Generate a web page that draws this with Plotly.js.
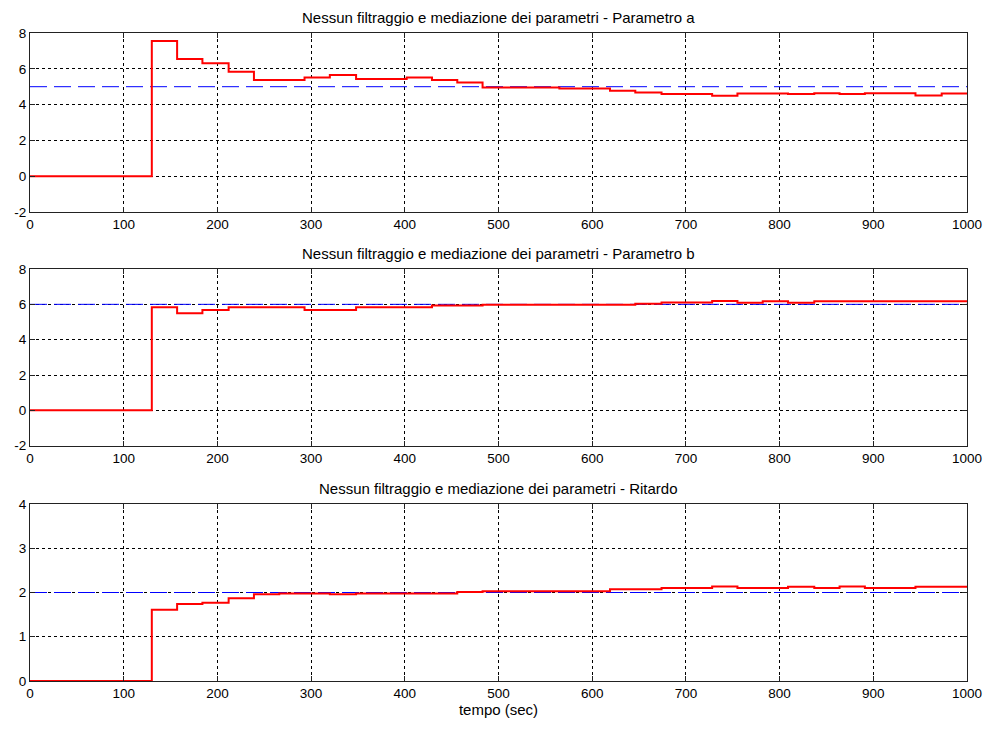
<!DOCTYPE html>
<html>
<head>
<meta charset="utf-8">
<script src="https://cdn.plot.ly/plotly-3.0.1.min.js"></script>
<style>html,body{margin:0;padding:0;background:#fff;}#chart{width:987px;height:730px;}</style>
</head>
<body>
<div id="chart"></div>
<script>
// step boundaries (sec)
const tempo = [0, 130, 157, 184, 212, 239, 266, 293, 320, 348, 375, 402, 429, 456, 483, 511, 538, 565, 592, 619, 646, 674, 701, 728, 755, 782, 809, 837, 864, 891, 918, 945, 973, 1000];
const parametroA = [0, 7.55, 6.55, 6.31, 5.84, 5.37, 5.37, 5.52, 5.65, 5.43, 5.43, 5.52, 5.37, 5.24, 4.96, 4.96, 4.96, 4.9, 4.9, 4.78, 4.68, 4.59, 4.59, 4.49, 4.62, 4.62, 4.59, 4.64, 4.59, 4.64, 4.64, 4.51, 4.62, 4.62];
const parametroB = [0, 5.83, 5.49, 5.68, 5.83, 5.83, 5.83, 5.68, 5.68, 5.83, 5.83, 5.83, 5.93, 5.93, 5.98, 5.98, 5.98, 5.98, 5.98, 5.98, 6.04, 6.11, 6.11, 6.19, 6.09, 6.17, 6.09, 6.17, 6.17, 6.17, 6.17, 6.17, 6.17, 6.17];
const ritardo = [0, 1.61, 1.74, 1.77, 1.87, 1.96, 1.98, 1.98, 1.96, 1.98, 1.98, 1.98, 1.98, 2.01, 2.03, 2.03, 2.03, 2.03, 2.03, 2.075, 2.075, 2.1, 2.1, 2.135, 2.1, 2.1, 2.13, 2.1, 2.135, 2.1, 2.1, 2.13, 2.13, 2.13];
const refX = [0, 1000];
const refA = [5, 5];
const refB = [6, 6];
const refR = [2, 2];
const titles = [
  "Nessun filtraggio e mediazione dei parametri - Parametro a",
  "Nessun filtraggio e mediazione dei parametri - Parametro b",
  "Nessun filtraggio e mediazione dei parametri - Ritardo"
];
const xTitle = "tempo (sec)";
const xTickVals = [0, 100, 200, 300, 400, 500, 600, 700, 800, 900, 1000];
const xTickText = ["0", "100", "200", "300", "400", "500", "600", "700", "800", "900", "1000"];
const yTickValsAB = [-2, 0, 2, 4, 6, 8];
const yTickTextAB = ["-2", "0", "2", "4", "6", "8"];
const yTickValsR = [0, 1, 2, 3, 4];
const yTickTextR = ["0", "1", "2", "3", "4"];

const blueLine = {color: '#0000ff', width: 1, dash: '17px,7px'};
const redLine = {color: '#ff0000', width: 2, shape: 'hv'};

const traces = [
  {x: refX, y: refA, xaxis: 'x', yaxis: 'y', mode: 'lines', line: blueLine},
  {x: tempo, y: parametroA, xaxis: 'x', yaxis: 'y', mode: 'lines', line: redLine},
  {x: refX, y: refB, xaxis: 'x2', yaxis: 'y2', mode: 'lines', line: blueLine},
  {x: tempo, y: parametroB, xaxis: 'x2', yaxis: 'y2', mode: 'lines', line: redLine},
  {x: refX, y: refR, xaxis: 'x3', yaxis: 'y3', mode: 'lines', line: blueLine},
  {x: tempo, y: ritardo, xaxis: 'x3', yaxis: 'y3', mode: 'lines', line: redLine}
];

const family = 'Liberation Sans, Arial, sans-serif';
const tickFnt = {family: family, size: 13.5, color: '#000'};
const titleFnt = {family: family, size: 15, color: '#000'};
function common() {
  return {showgrid: true, gridcolor: '#000', griddash: '3px,3px', gridwidth: 1,
    showline: true, linecolor: '#222', linewidth: 1, mirror: 'ticks',
    ticks: 'inside', ticklen: 5, tickcolor: '#222', zeroline: false,
    tickfont: tickFnt, fixedrange: true, tickmode: 'array'};
}
function xa(anchor) {
  return Object.assign(common(), {anchor: anchor, domain: [0, 1], range: [0, 1000],
    tickvals: xTickVals, ticktext: xTickText});
}
function ya(anchor, dom, rng, tv, tt) {
  return Object.assign(common(), {anchor: anchor, domain: dom, range: rng,
    tickvals: tv, ticktext: tt});
}
const d1 = [0.7238, 1], d2 = [0.3631, 0.6358], d3 = [0, 0.2731];
const x3 = xa('y3');
x3.title = {text: xTitle, font: titleFnt, standoff: 2};
const layout = {
  width: 987, height: 730,
  margin: {l: 30, r: 20, t: 33, b: 49},
  paper_bgcolor: '#fff', plot_bgcolor: '#fff',
  showlegend: false, font: tickFnt,
  xaxis: xa('y'), xaxis2: xa('y2'), xaxis3: x3,
  yaxis: ya('x', d1, [-2, 8], yTickValsAB, yTickTextAB),
  yaxis2: ya('x2', d2, [-2, 8], yTickValsAB, yTickTextAB),
  yaxis3: ya('x3', d3, [0, 4], yTickValsR, yTickTextR),
  annotations: [
    {text: titles[0], xref: 'paper', yref: 'paper', x: 0.5, y: d1[1], yanchor: 'bottom', yshift: 5, showarrow: false, font: titleFnt},
    {text: titles[1], xref: 'paper', yref: 'paper', x: 0.5, y: d2[1], yanchor: 'bottom', yshift: 5, showarrow: false, font: titleFnt},
    {text: titles[2], xref: 'paper', yref: 'paper', x: 0.5, y: d3[1], yanchor: 'bottom', yshift: 5, showarrow: false, font: titleFnt}
  ]
};
Plotly.newPlot('chart', traces, layout, {displayModeBar: false, staticPlot: true});
</script>
</body>
</html>
